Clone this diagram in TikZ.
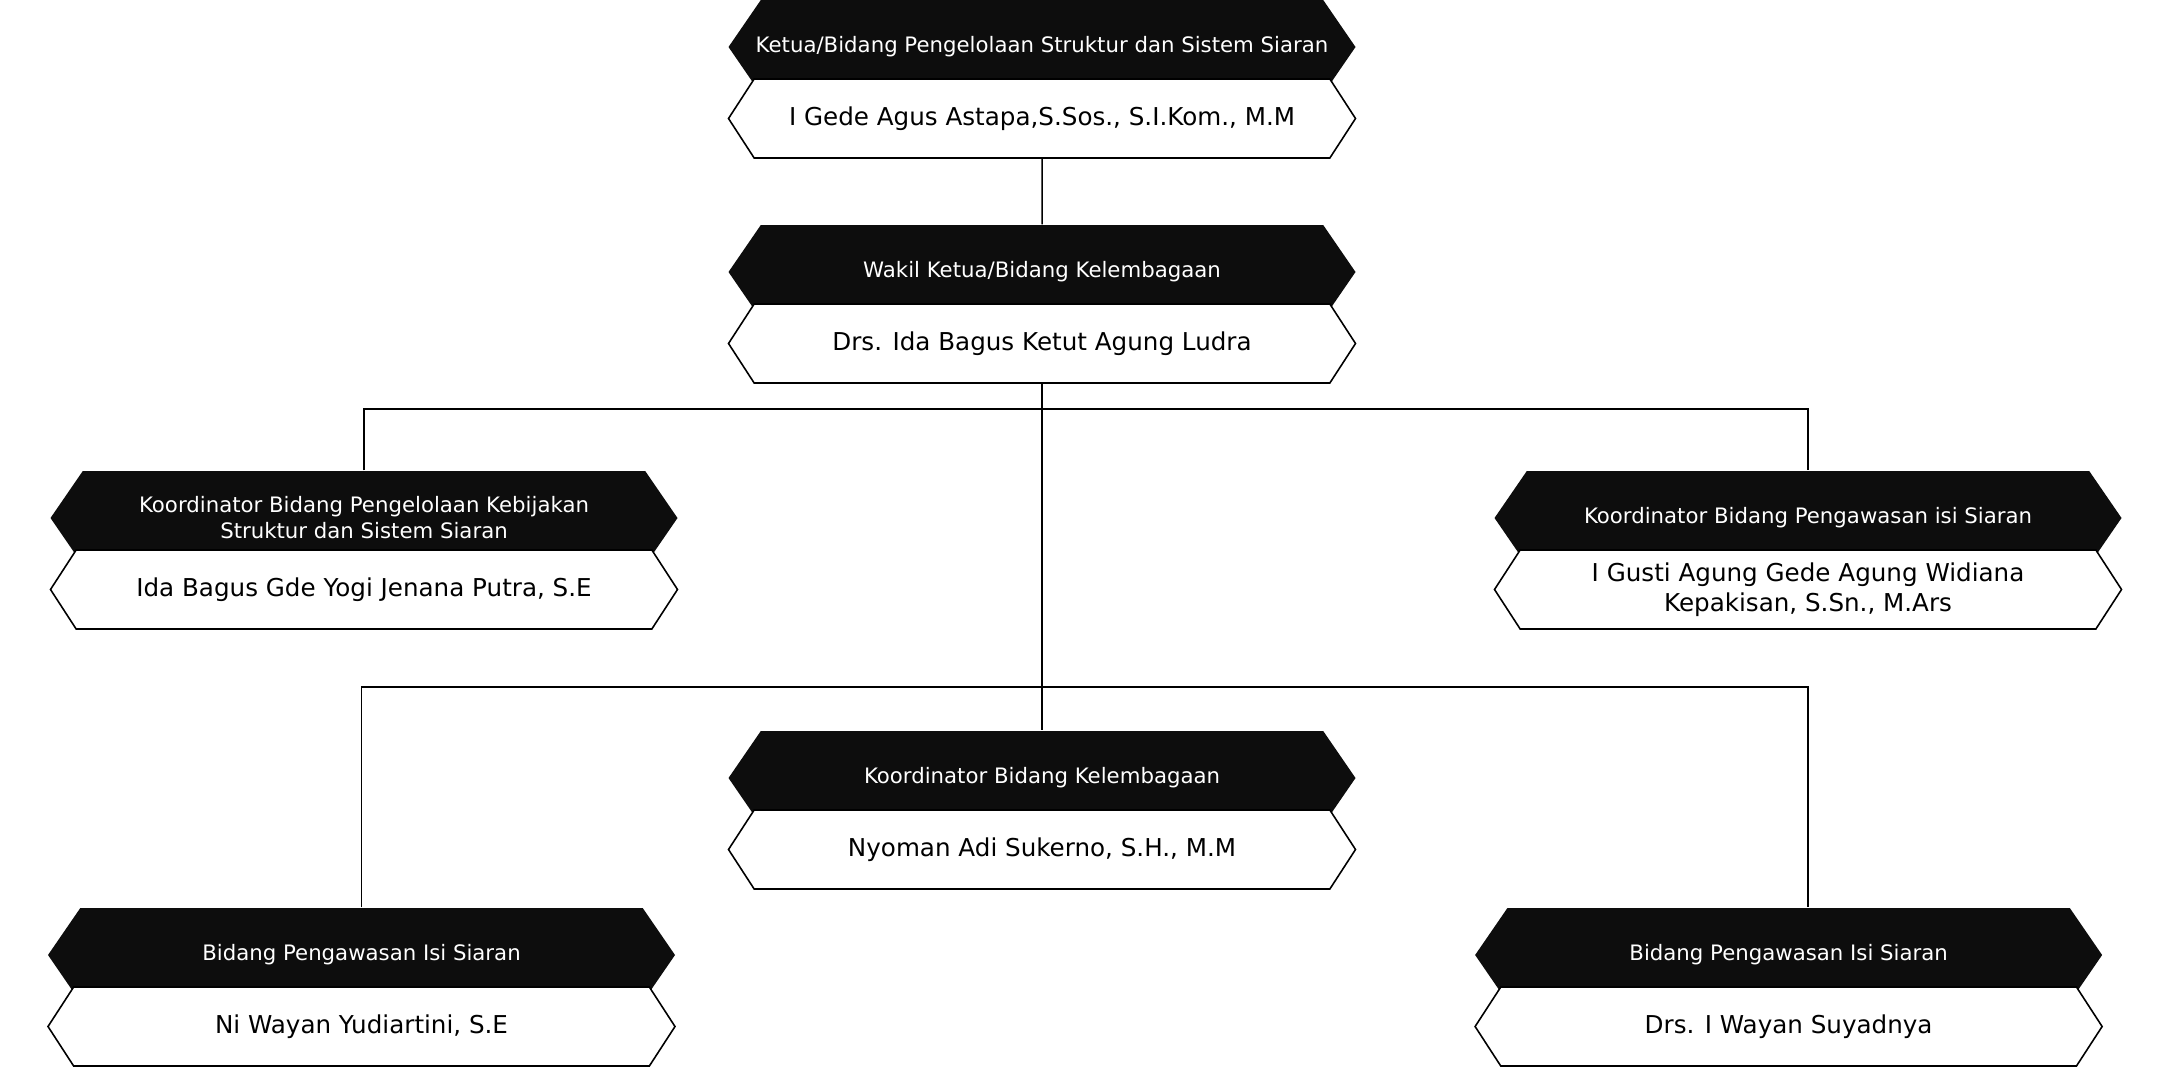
\documentclass[tikz,border=0pt]{standalone}
\usepackage{fontspec}
\setmainfont{DejaVu Sans}
\usetikzlibrary{shapes.symbols, positioning}

\begin{document}
\begin{tikzpicture}[
			node distance=-0.165cm,
			every node/.style={align=center},
			head/.style={signal, signal to=west and east, signal pointer angle=111, fill=black!95, text=white, minimum width=6.27cm, minimum height=0.94cm, inner sep=1pt, font=\fontsize{6.05}{7.4}\selectfont},
			person/.style={signal, signal to=west and east, signal pointer angle=114, draw, fill=white, line width=0.45pt, minimum width=6.27cm, minimum height=0.79cm, inner sep=1pt, font=\fontsize{7.0}{8.6}\selectfont},
			line/.style={line width=0.45pt}
			]
			\useasboundingbox (0,0) rectangle (21.8,-10.68);
			
			\node[head, inner xsep=-1mm] (ketua) at (10.42,-0.47) {Ketua/Bidang Pengelolaan Struktur dan Sistem Siaran};
			\node[person, below=of ketua] (ketuaN) {I Gede Agus Astapa,S.Sos., S.I.Kom., M.M};
			\node[head] (wakil) at (10.42,-2.72) {Wakil Ketua/Bidang Kelembagaan};
			\node[person, below=of wakil] (wakilN) {Drs. Ida Bagus Ketut Agung Ludra};
			\node[head] (koorL) at (3.64,-5.18) {Koordinator Bidang Pengelolaan Kebijakan\\Struktur dan Sistem Siaran};
			\node[person, below=of koorL] (koorLN) {Ida Bagus Gde Yogi Jenana Putra, S.E};
			\node[head] (koorR) at (18.08,-5.18) {Koordinator Bidang Pengawasan isi Siaran};
			\node[person, below=of koorR] (koorRN) {I Gusti Agung Gede Agung Widiana\\Kepakisan, S.Sn., M.Ars};
			\node[head] (koorK) at (10.42,-7.78) {Koordinator Bidang Kelembagaan};
			\node[person, below=of koorK] (koorKN) {Nyoman Adi Sukerno, S.H., M.M};
			\node[head] (bidL) at (3.615,-9.55) {Bidang Pengawasan Isi Siaran};
			\node[person, below=of bidL] (bidLN) {Ni Wayan Yudiartini, S.E};
			\node[head] (bidR) at (17.886,-9.55) {Bidang Pengawasan Isi Siaran};
			\node[person, below=of bidR] (bidRN) {Drs. I Wayan Suyadnya};
			
			\coordinate (bus1) at (10.42,-4.088);
			\coordinate (bus2) at (10.42,-6.868);
			
			\draw[line] (ketuaN) -- (wakil);
			\draw[line] (wakilN.south) -- (koorK.north);
			\draw[line] (koorL.north) |- (bus1) -| (koorR.north);
			\draw[line] (bidL.north) |- (bus2) -| (koorR.south |- bidR.north);
		\end{tikzpicture}
\end{document}
